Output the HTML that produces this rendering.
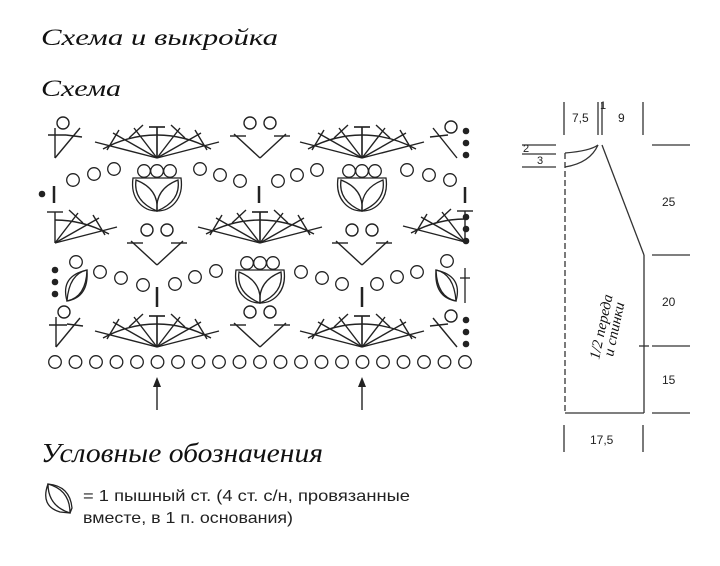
<!DOCTYPE html>
<html><head><meta charset="utf-8"><style>
html,body{margin:0;padding:0;background:#fff;width:720px;height:566px;overflow:hidden}
svg{display:block}
.t{font-family:"Liberation Serif","DejaVu Serif",serif;font-style:italic;fill:#111}
.s{font-family:"Liberation Sans","DejaVu Sans",sans-serif;fill:#222}
</style></head><body>
<svg width="720" height="566" viewBox="0 0 720 566" xmlns="http://www.w3.org/2000/svg">
<defs>
 <g id="fanL" stroke="#222" stroke-width="1.4" fill="none">
  <line x1="0" y1="0" x2="0" y2="-31"/>
  <line x1="0" y1="0" x2="-23" y2="-30"/>
  <line x1="0" y1="0" x2="-44" y2="-25"/>
  <line x1="0" y1="0" x2="-62" y2="-16"/>
  <path d="M0 -23 Q-28 -23 -54 -9"/>
  <line x1="-8" y1="-31" x2="8" y2="-31"/>
  <line x1="-28" y1="-20" x2="-14" y2="-33"/>
  <line x1="-50" y1="-8" x2="-38" y2="-28"/>
 </g>
 <g id="fanR"><use href="#fanL" transform="scale(-1,1)"/></g>
 <g id="fan"><use href="#fanL"/><use href="#fanR"/></g>
 <g id="vee" stroke="#222" stroke-width="1.4" fill="none">
  <line x1="0" y1="0" x2="-26" y2="-24"/>
  <line x1="0" y1="0" x2="26" y2="-24"/>
  <line x1="-30" y1="-22" x2="-14" y2="-22"/>
  <line x1="14" y1="-22" x2="30" y2="-22"/>
  <circle cx="-10" cy="-35" r="6"/>
  <circle cx="10" cy="-35" r="6"/>
 </g>
 <g id="tulip" stroke="#222" stroke-width="1.3" fill="none">
  <circle cx="-13" cy="-6" r="6.3"/>
  <circle cx="0" cy="-6" r="6.3"/>
  <circle cx="13" cy="-6" r="6.3"/>
  <path d="M-24 1 L24 1 C27 22 14 34 0 34 C-14 34 -27 22 -24 1Z"/>
  <path d="M0 34 Q-24 24 -21 3 Q2 12 0 34Z"/>
  <path d="M0 34 Q24 24 21 3 Q-2 12 0 34Z"/>
 </g>
 <circle id="c" r="6.3" fill="none" stroke="#222" stroke-width="1.3"/>
</defs>

<text class="t" x="41" y="45" font-size="23" textLength="237" lengthAdjust="spacingAndGlyphs">Схема и выкройка</text>
<text class="t" x="41" y="96" font-size="23" textLength="80" lengthAdjust="spacingAndGlyphs">Схема</text>

<!-- Row 1 -->
<use href="#fan" x="157" y="158"/>
<use href="#fan" x="362" y="158"/>
<use href="#vee" x="260" y="158"/>
<g stroke="#222" stroke-width="1.4" fill="none">
 <line x1="55" y1="158" x2="55" y2="128"/><line x1="48" y1="135" x2="66" y2="135"/>
 <line x1="55" y1="158" x2="80" y2="128"/><line x1="66" y1="135" x2="82" y2="137"/>
 <circle cx="63" cy="123" r="6"/>
 <line x1="433" y1="128" x2="457" y2="158"/><line x1="430" y1="137" x2="448" y2="135"/>
 <circle cx="451" cy="127" r="6"/>
</g>
<g fill="#222"><circle cx="466" cy="131" r="3.3"/><circle cx="466" cy="143" r="3.3"/><circle cx="466" cy="155" r="3.3"/></g>

<!-- Row 2 -->
<circle cx="42" cy="194" r="3.3" fill="#222"/>
<g stroke="#222" stroke-width="2.5"><line x1="54" y1="186" x2="54" y2="203"/><line x1="259" y1="186" x2="259" y2="203"/><line x1="465" y1="187" x2="465" y2="203"/></g>
<use href="#c" x="73" y="180"/><use href="#c" x="94" y="174"/><use href="#c" x="114" y="169"/>
<use href="#c" x="200" y="169"/><use href="#c" x="220" y="175"/><use href="#c" x="240" y="181"/>
<use href="#c" x="278" y="181"/><use href="#c" x="297" y="175"/><use href="#c" x="317" y="170"/>
<use href="#c" x="407" y="170"/><use href="#c" x="429" y="175"/><use href="#c" x="450" y="180"/>
<use href="#tulip" x="157" y="177"/>
<use href="#tulip" x="362" y="177"/>

<!-- Row 3 -->
<use href="#fanR" x="55" y="243"/>
<use href="#fan" x="260" y="243"/>
<use href="#fanL" x="465" y="242"/>
<use href="#vee" x="157" y="265"/>
<use href="#vee" x="362" y="265"/>
<g fill="#222"><circle cx="466" cy="217" r="3.3"/><circle cx="466" cy="229" r="3.3"/><circle cx="466" cy="241" r="3.3"/></g>

<!-- Row 4 -->
<g fill="#222"><circle cx="55" cy="270" r="3.3"/><circle cx="55" cy="282" r="3.3"/><circle cx="55" cy="294" r="3.3"/></g>
<g stroke="#222" stroke-width="1.3" fill="none">
 <path d="M67 301 Q69 274 87 270 Q86 297 67 301Z"/>
 <path d="M87 270 Q60 276 67 301"/>
 <path d="M67 301 Q89 297 87 270"/>
 <path d="M456 301 Q454 274 436 270 Q437 297 456 301Z"/>
 <path d="M436 270 Q463 276 456 301"/>
 <path d="M456 301 Q434 297 436 270"/>
 <line x1="465" y1="268" x2="465" y2="303"/><line x1="460" y1="278" x2="470" y2="278"/>
</g>
<use href="#c" x="76" y="262"/><use href="#c" x="447" y="261"/>
<use href="#c" x="100" y="272"/><use href="#c" x="121" y="278"/><use href="#c" x="143" y="285"/>
<use href="#c" x="175" y="284"/><use href="#c" x="195" y="277"/><use href="#c" x="216" y="271"/>
<use href="#c" x="301" y="272"/><use href="#c" x="322" y="278"/><use href="#c" x="342" y="284"/>
<use href="#c" x="377" y="284"/><use href="#c" x="397" y="277"/><use href="#c" x="417" y="272"/>
<g stroke="#222" stroke-width="2.5"><line x1="157" y1="287" x2="157" y2="307"/><line x1="362" y1="287" x2="362" y2="307"/></g>
<use href="#tulip" x="260" y="269"/>

<!-- Row 5 -->
<use href="#fan" x="157" y="347"/>
<use href="#fan" x="362" y="347"/>
<use href="#vee" x="260" y="347"/>
<g stroke="#222" stroke-width="1.4" fill="none">
 <line x1="56" y1="347" x2="56" y2="317"/><line x1="49" y1="325" x2="67" y2="325"/>
 <line x1="56" y1="347" x2="80" y2="318"/><line x1="67" y1="324" x2="83" y2="326"/>
 <circle cx="64" cy="312" r="6"/>
 <line x1="433" y1="318" x2="457" y2="347"/><line x1="430" y1="326" x2="448" y2="324"/>
 <circle cx="451" cy="316" r="6"/>
</g>
<g fill="#222"><circle cx="466" cy="320" r="3.3"/><circle cx="466" cy="332" r="3.3"/><circle cx="466" cy="344" r="3.3"/></g>

<!-- Row 6 chain -->
<g>
<use href="#c" x="55" y="362"/><use href="#c" x="75.5" y="362"/><use href="#c" x="96" y="362"/><use href="#c" x="116.5" y="362"/><use href="#c" x="137" y="362"/><use href="#c" x="157.5" y="362"/><use href="#c" x="178" y="362"/><use href="#c" x="198.5" y="362"/><use href="#c" x="219" y="362"/><use href="#c" x="239.5" y="362"/><use href="#c" x="260" y="362"/><use href="#c" x="280.5" y="362"/><use href="#c" x="301" y="362"/><use href="#c" x="321.5" y="362"/><use href="#c" x="342" y="362"/><use href="#c" x="362.5" y="362"/><use href="#c" x="383" y="362"/><use href="#c" x="403.5" y="362"/><use href="#c" x="424" y="362"/><use href="#c" x="444.5" y="362"/><use href="#c" x="465" y="362"/>
</g>
<!-- arrows -->
<g stroke="#222" stroke-width="1.4"><line x1="157" y1="384" x2="157" y2="410"/><line x1="362" y1="384" x2="362" y2="410"/></g>
<g fill="#222"><polygon points="157,377 153,387 161,387"/><polygon points="362,377 358,387 366,387"/></g>

<!-- Schematic -->
<g stroke="#333" stroke-width="1.3" fill="none">
 <line x1="564" y1="102" x2="564" y2="135"/><line x1="598" y1="102" x2="598" y2="135"/><line x1="602" y1="102" x2="602" y2="135"/><line x1="643" y1="102" x2="643" y2="135"/>
 <line x1="522" y1="145" x2="556" y2="145"/><line x1="522" y1="154" x2="556" y2="154"/><line x1="522" y1="167" x2="556" y2="167"/>
 <line x1="652" y1="145" x2="690" y2="145"/><line x1="652" y1="255" x2="690" y2="255"/><line x1="652" y1="346" x2="690" y2="346"/><line x1="652" y1="413" x2="690" y2="413"/>
 <line x1="564" y1="425" x2="564" y2="452"/><line x1="643" y1="425" x2="643" y2="452"/>
 <path d="M565 153 Q590 151 598 145"/>
 <path d="M565 167 Q590 163 598 145"/>
 <line x1="565" y1="153" x2="565" y2="413" stroke-dasharray="6,3"/>
 <line x1="565" y1="413" x2="644" y2="413"/>
 <line x1="644" y1="255" x2="644" y2="413"/>
 <line x1="602" y1="145" x2="644" y2="255"/>
 <line x1="639" y1="346" x2="649" y2="346"/>
</g>
<g class="s" font-size="12">
 <text x="572" y="122">7,5</text><text x="600" y="109" font-size="11">1</text><text x="618" y="122">9</text>
 <text x="523" y="152" font-size="11">2</text><text x="537" y="164" font-size="11">3</text>
 <text x="662" y="206">25</text><text x="662" y="306">20</text><text x="662" y="384">15</text>
 <text x="590" y="444">17,5</text>
</g>
<text class="t" font-size="15" transform="translate(599,360) rotate(-78)">1/2 переда</text>
<text class="t" font-size="15" transform="translate(613,357) rotate(-78)">и спинки</text>

<!-- Legend -->
<text class="t" x="41" y="462" font-size="27" textLength="282" lengthAdjust="spacingAndGlyphs">Условные обозначения</text>
<g stroke="#222" stroke-width="1.3" fill="none">
 <path d="M48 484 Q48 506 70 513 Q70 490 48 484Z"/>
 <path d="M48 484 Q40 506 60 512 L70 513"/>
 <path d="M48 484 Q70 486 72 508 L70 513"/>
</g>
<text class="s" x="83" y="501" font-size="16" textLength="327" lengthAdjust="spacingAndGlyphs">= 1 пышный ст. (4 ст. с/н, провязанные</text>
<text class="s" x="83" y="523" font-size="16" textLength="210" lengthAdjust="spacingAndGlyphs">вместе, в 1 п. основания)</text>
</svg>
</body></html>
